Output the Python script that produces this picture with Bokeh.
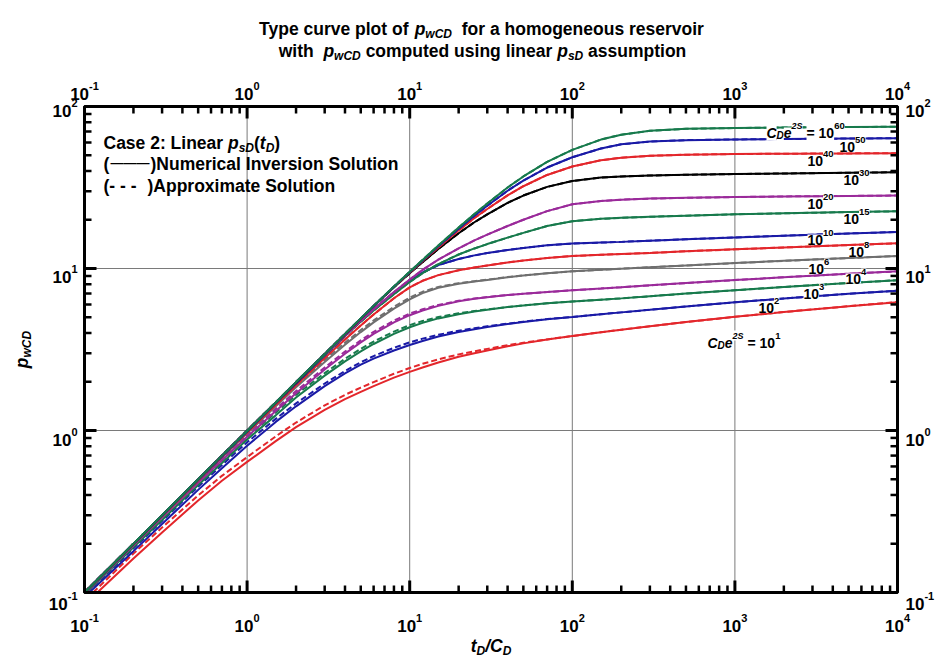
import math
from bokeh.plotting import figure
from bokeh.models import Range1d, Label
from bokeh.embed import file_html
from bokeh.resources import INLINE

# ---------------- data ----------------
t_vals = [0.1, 0.2, 0.3, 0.5, 0.7, 1, 1.5, 2, 3, 4, 5, 6, 8, 10, 12, 15, 20, 25, 30, 40,
          50, 70, 100, 150, 200, 300, 500, 1000, 2000, 5000, 10000]

# numerical inversion solution, one list per C_D e^{2S}
p_1e1 = [0.1, 0.162, 0.235, 0.37, 0.49, 0.64, 0.86, 1.05, 1.34, 1.56, 1.73, 1.88, 2.12, 2.3, 2.45,
         2.63, 2.85, 3.0, 3.12, 3.31, 3.45, 3.64, 3.83, 4.04, 4.19, 4.4, 4.67, 5.03, 5.39, 5.85, 6.2]
p_1e2 = [0.1, 0.18, 0.265, 0.43, 0.585, 0.805, 1.13, 1.41, 1.88, 2.25, 2.55, 2.78, 3.12, 3.37, 3.57,
         3.8, 4.05, 4.22, 4.35, 4.54, 4.68, 4.86, 5.02, 5.22, 5.36, 5.56, 5.83, 6.18, 6.53, 6.98, 7.3]
p_1e3 = [0.1, 0.19, 0.28, 0.46, 0.63, 0.88, 1.24, 1.6, 2.18, 2.67, 3.08, 3.42, 3.95, 4.34, 4.62,
         4.92, 5.22, 5.42, 5.56, 5.78, 5.92, 6.1, 6.25, 6.42, 6.54, 6.74, 7.0, 7.34, 7.69, 8.14, 8.47]
p_1e4 = [0.1, 0.195, 0.29, 0.475, 0.655, 0.915, 1.32, 1.7, 2.38, 2.98, 3.5, 3.95, 4.65, 5.15, 5.5,
         5.88, 6.27, 6.5, 6.65, 6.85, 6.98, 7.15, 7.35, 7.52, 7.66, 7.87, 8.13, 8.48, 8.83, 9.28, 9.6]
p_1e6 = [0.1, 0.197, 0.295, 0.49, 0.68, 0.96, 1.41, 1.85, 2.65, 3.38, 4.05, 4.65, 5.65, 6.45, 7.05,
         7.6, 8.05, 8.3, 8.5, 8.83, 9.05, 9.35, 9.6, 9.82, 9.97, 10.18, 10.44, 10.8, 11.15, 11.6, 11.95]
p_1e8 = [0.1, 0.198, 0.296, 0.491, 0.685, 0.97, 1.44, 1.9, 2.8, 3.65, 4.45, 5.2, 6.55, 7.65, 8.4,
         9.1, 9.75, 10.15, 10.45, 10.9, 11.2, 11.6, 11.95, 12.15, 12.28, 12.48, 12.77, 13.13, 13.48, 13.95, 14.3]
p_1e10 = [0.1, 0.2, 0.298, 0.495, 0.69, 0.985, 1.47, 1.95, 2.9, 3.83, 4.72, 5.58, 7.1, 8.35, 9.45,
          10.5, 11.45, 12.05, 12.45, 13.0, 13.4, 13.9, 14.25, 14.45, 14.6, 14.85, 15.15, 15.55, 15.95, 16.45, 16.8]
p_1e15 = [0.1, 0.2, 0.299, 0.497, 0.695, 0.99, 1.48, 1.97, 2.92, 3.84, 4.7, 5.5, 6.95, 8.25, 9.35,
          10.65, 12.2, 13.3, 14.15, 15.5, 16.6, 18.3, 19.6, 20.25, 20.55, 20.85, 21.2, 21.6, 21.9, 22.3, 22.55]
p_1e20 = [0.1, 0.2, 0.3, 0.499, 0.698, 0.995, 1.49, 1.98, 2.94, 3.86, 4.75, 5.6, 7.15, 8.55, 9.8,
          11.35, 13.3, 14.9, 16.2, 18.3, 20.0, 22.6, 24.9, 26.1, 26.6, 27.0, 27.3, 27.6, 27.85, 28.05, 28.2]
p_1e30 = [0.1, 0.2, 0.3, 0.5, 0.7, 0.996, 1.49, 1.98, 2.96, 3.93, 4.89, 5.84, 7.65, 9.35, 10.95,
          13.2, 16.5, 19.3, 21.6, 25.4, 28.2, 31.9, 34.7, 36.4, 37.0, 37.5, 37.9, 38.3, 38.6, 39.0, 39.3]
p_1e40 = [0.1, 0.2, 0.3, 0.5, 0.7, 0.997, 1.49, 1.99, 2.97, 3.94, 4.9, 5.86, 7.7, 9.45, 11.12,
          13.5, 17.2, 20.5, 23.3, 28.3, 32.2, 37.8, 42.6, 46.6, 48.3, 49.6, 50.4, 50.9, 51.1, 51.35, 51.5]
p_1e50 = [0.1, 0.2, 0.3, 0.5, 0.7, 0.997, 1.49, 1.99, 2.97, 3.95, 4.91, 5.87, 7.72, 9.5, 11.22,
          13.7, 17.6, 21.2, 24.4, 30.2, 34.9, 42.0, 48.6, 55.0, 58.4, 60.8, 62.0, 62.6, 63.0, 63.4, 63.7]
p_1e60 = [0.1, 0.2, 0.3, 0.5, 0.7, 0.997, 1.49, 1.99, 2.97, 3.95, 4.92, 5.88, 7.75, 9.55, 11.3,
          13.85, 17.9, 21.7, 25.2, 31.6, 37.0, 45.5, 54.0, 62.5, 67.0, 70.8, 72.8, 73.6, 74.2, 74.7, 75.0]

# approximate solution (dashed) where it departs from the numerical curve
a_1e1 = [0.1, 0.174, 0.252, 0.397, 0.525, 0.685, 0.92, 1.12, 1.43, 1.66, 1.84, 1.99, 2.24, 2.43, 2.58,
         2.75, 2.95, 3.08, 3.19, 3.36, 3.48, 3.65, 3.83, 4.04, 4.19, 4.4, 4.67, 5.03, 5.39, 5.85, 6.2]
a_1e2 = [0.1, 0.187, 0.276, 0.45, 0.612, 0.845, 1.18, 1.47, 1.95, 2.33, 2.64, 2.88, 3.24, 3.5, 3.69,
         3.9, 4.13, 4.28, 4.4, 4.57, 4.7, 4.87, 5.02, 5.22, 5.36, 5.56, 5.83, 6.18, 6.53, 6.98, 7.3]
a_1e3 = [0.1, 0.196, 0.29, 0.475, 0.65, 0.91, 1.29, 1.66, 2.26, 2.77, 3.19, 3.54, 4.08, 4.47, 4.74,
         5.02, 5.29, 5.47, 5.59, 5.79, 5.92, 6.1, 6.25, 6.42, 6.54, 6.74, 7.0, 7.34, 7.69, 8.14, 8.47]
a_1e4 = [0.1, 0.199, 0.297, 0.488, 0.675, 0.945, 1.36, 1.75, 2.45, 3.07, 3.6, 4.06, 4.77, 5.27, 5.6,
         5.96, 6.32, 6.53, 6.67, 6.86, 6.98, 7.15, 7.35, 7.52, 7.66, 7.87, 8.13, 8.48, 8.83, 9.28, 9.6]
a_1e6 = [0.1, 0.199, 0.298, 0.495, 0.69, 0.975, 1.44, 1.89, 2.72, 3.48, 4.17, 4.78, 5.8, 6.6, 7.18,
         7.7, 8.12, 8.35, 8.54, 8.85, 9.06, 9.35, 9.6, 9.82, 9.97, 10.18, 10.44, 10.8, 11.15, 11.6, 11.95]

# t_D/C_D where each curve enters the plot at p = 0.1 (first point of each list)
start_num = [0.12, 0.107, 0.103, 0.102, 0.101, 0.1, 0.1, 0.1, 0.1, 0.1, 0.1, 0.1, 0.1]
start_app = [0.113, 0.104, 0.101, 0.1, 0.1, 0.1, 0.1, 0.1, 0.1, 0.1, 0.1, 0.1, 0.1]

curve_exps = ["1", "2", "3", "4", "6", "8", "10", "15", "20", "30", "40", "50", "60"]
numerical = [p_1e1, p_1e2, p_1e3, p_1e4, p_1e6, p_1e8, p_1e10, p_1e15, p_1e20, p_1e30, p_1e40, p_1e50, p_1e60]
approx = [a_1e1, a_1e2, a_1e3, a_1e4, a_1e6, p_1e8, p_1e10, p_1e15, p_1e20, p_1e30, p_1e40, p_1e50, p_1e60]

tick_exps_x = [-1, 0, 1, 2, 3, 4]
tick_exps_y = [-1, 0, 1, 2]
X_MIN, X_MAX, Y_MIN, Y_MAX = 0.1, 1e4, 0.1, 100

# ---------------- styling ----------------
RED, BLUE, GREEN, PURPLE, GRAY, BLACK = "#e3262b", "#1a1aa6", "#177a4c", "#9a2a9a", "#6f6f6f", "#000000"
colors = [RED, BLUE, GREEN, PURPLE, GRAY, RED, BLUE, GREEN, PURPLE, BLACK, RED, BLUE, GREEN]
FONT = "Liberation Sans"

W, H = 936, 657
FX0, FX1, FY0, FY1 = 84, 897, 106, 592   # pixel box of the plotting area
MAJ, MIN = 12, 7                          # tick lengths (px, pointing inwards)


def xd(px):
    return 10 ** (math.log10(X_MIN) + math.log10(X_MAX / X_MIN) * (px - FX0) / (FX1 - FX0))


def yd(py):
    return 10 ** (math.log10(Y_MAX) - math.log10(Y_MAX / Y_MIN) * (py - FY0) / (FY1 - FY0))


AW = {' ': 278, '(': 333, ')': 333, '-': 333, '/': 278, ':': 333, '=': 584, '\u2014': 1000,
      'A': 722, 'C': 722, 'D': 722, 'I': 278, 'L': 611, 'N': 722, 'S': 667, 'T': 611,
      'a': 556, 'c': 556, 'd': 611, 'e': 556, 'f': 333, 'g': 611, 'h': 611, 'i': 278, 'l': 278,
      'm': 889, 'n': 611, 'o': 611, 'p': 611, 'r': 389, 's': 556, 't': 333, 'u': 611, 'v': 556,
      'w': 778, 'x': 556, 'y': 556}


def tw(s, size):
    return sum(AW.get(ch, 556) for ch in s) * size / 1000.0


# the frame covers the whole canvas (log scales); the boxed plot area sits inside it
p = figure(width=W, height=H, x_axis_type="log", y_axis_type="log",
           x_axis_location=None, y_axis_location=None,
           x_range=Range1d(xd(0), xd(W)), y_range=Range1d(yd(H), yd(0)),
           output_backend="svg", toolbar_location=None,
           min_border=0, min_border_left=0, min_border_right=0,
           min_border_top=0, min_border_bottom=0)
p.outline_line_color = None
p.background_fill_color = "white"
p.border_fill_color = "white"
for g in p.grid:
    g.visible = False

# grid lines at the major decades
gx = [10.0 ** e for e in tick_exps_x]
gy = [10.0 ** e for e in tick_exps_y]
p.segment(x0=gx, y0=[Y_MIN] * len(gx), x1=gx, y1=[Y_MAX] * len(gx), line_color="#7a7a7a", line_width=1)
p.segment(x0=[X_MIN] * len(gy), y0=gy, x1=[X_MAX] * len(gy), y1=gy, line_color="#7a7a7a", line_width=1)

for vals, avals, c, s_n, s_a in zip(numerical, approx, colors, start_num, start_app):
    p.line([s_n] + t_vals[1:], vals, line_color=c, line_width=2)
    p.line([s_a] + t_vals[1:], avals, line_color=c, line_width=2, line_dash="6 3")

# ticks on all four sides (major at decades, minor at 2..9)
x_minor = [m * 10.0 ** e for e in tick_exps_x[:-1] for m in range(2, 10)]
y_minor = [m * 10.0 ** e for e in tick_exps_y[:-1] for m in range(2, 10)]
for xs, L, lw in ((gx, MAJ, 3), (x_minor, MIN, 2.5)):
    n = len(xs)
    p.segment(x0=xs, y0=[Y_MIN] * n, x1=xs, y1=[yd(FY1 - L)] * n, line_color="black", line_width=lw)
    p.segment(x0=xs, y0=[Y_MAX] * n, x1=xs, y1=[yd(FY0 + L)] * n, line_color="black", line_width=lw)
for ys, L, lw in ((gy, MAJ, 3), (y_minor, MIN, 2.5)):
    n = len(ys)
    p.segment(x0=[X_MIN] * n, y0=ys, x1=[xd(FX0 + L)] * n, y1=ys, line_color="black", line_width=lw)
    p.segment(x0=[X_MAX] * n, y0=ys, x1=[xd(FX1 - L)] * n, y1=ys, line_color="black", line_width=lw)

p.quad(left=[X_MIN], right=[X_MAX], bottom=[Y_MIN], top=[Y_MAX], fill_color=None,
       line_color="black", line_width=3)


def rich(parts, x, y, align="left", angle=0.0, bg=None):
    """parts: (text, size, italic, dy) ; x,y pixel anchor (baseline)."""
    total = sum(tw(t, s) for t, s, _, _ in parts)
    cur = {"left": 0.0, "center": -total / 2.0, "right": -total}[align]
    for text, size, it, dy in parts:
        lead = len(text) - len(text.lstrip(' '))
        body = text.strip(' ')
        ox = cur + tw(' ' * lead, size)
        if body:
            if angle == 0:
                px, py = x + ox, y + dy
            else:
                px, py = x + dy, y - ox
            kw = dict(x=xd(px), y=yd(py), text=body, text_font=FONT,
                      text_font_size=f"{size}px",
                      text_font_style="bold italic" if it else "bold",
                      text_align="left", text_baseline="alphabetic",
                      text_color="black", angle=angle)
            if bg:
                kw["background_fill_color"] = bg
            p.add_layout(Label(**kw))
        cur += tw(text, size)


# ---------------- titles ----------------
BIG, SUB = 17.5, 12
rich([("Type curve plot of ", BIG, False, 0), ("p", BIG, True, 0), ("wCD", SUB, True, 5),
      ("  for a homogeneous reservoir", BIG, False, 0)], 481, 28, "center")
rich([("with  ", BIG, False, 0), ("p", BIG, True, 0), ("wCD", SUB, True, 5),
      (" computed using linear ", BIG, False, 0), ("p", BIG, True, 0), ("sD", SUB, True, 5),
      (" assumption", BIG, False, 0)], 482, 50, "center")

# axis titles
rich([("t", BIG, True, 0), ("D", SUB, True, 5), ("/C", BIG, True, 0), ("D", SUB, True, 5)],
     (FX0 + FX1) / 2, 645, "center")
rich([("p", BIG, True, 0), ("wCD", SUB, True, 5)], 21, (FY0 + FY1) / 2, "center", angle=math.pi / 2)

# legend block
rich([("Case 2: Linear ", BIG, False, 0), ("p", BIG, True, 0), ("sD", SUB, True, 5),
      ("(", BIG, False, 0), ("t", BIG, True, 0), ("D", SUB, True, 5), (")", BIG, False, 0)], 103, 142)
rich([("(", BIG, False, 0)], 103, 163)
rich([("\u2014\u2014\u2014", 13, False, -1.5)], 110, 163)
rich([(")Numerical Inversion Solution", BIG, False, 0)], 150, 163)
rich([("(- - -", BIG, False, 0)], 103, 185)
rich([(")Approximate Solution", BIG, False, 0)], 147, 185)

# ---------------- tick labels ----------------
TS, TSS = 17, 11
y_label_drop = {-1: 11, 0: 9, 1: 8, 2: 4}
for e in tick_exps_x:
    px = FX0 + (FX1 - FX0) * (e - tick_exps_x[0]) / (tick_exps_x[-1] - tick_exps_x[0])
    parts = [("10", TS, False, 0), (str(e), TSS, False, -8)]
    rich(parts, px, 625, "center")
    rich(parts, px, 93, "center")
for e in tick_exps_y:
    py = FY1 - (FY1 - FY0) * (e - tick_exps_y[0]) / (tick_exps_y[-1] - tick_exps_y[0])
    parts = [("10", TS, False, 0), (str(e), TSS, False, -8)]
    rich(parts, 77, py + y_label_drop[e], "right")
    rich(parts, 905, py + y_label_drop[e], "left")

# ---------------- curve labels ----------------
label_pos = {"60": (766, 127), "50": (839, 141), "40": (807, 155), "30": (843, 174), "20": (807, 198),
             "15": (843, 213), "10": (807, 234), "8": (848, 246), "6": (808, 263), "4": (845, 273),
             "3": (803, 288), "2": (758, 302), "1": (707, 337)}
LS, LSS = 14, 9.5
for e in curve_exps:
    lx, ly = label_pos[e]
    if e in ("60", "1"):
        parts = [("C", LS, True, 0), ("D", 10, True, 3), ("e", LS, True, 0), ("2S", 9, True, -7),
                 (" = 10", LS, False, 0), (e, LSS, False, -7)]
    else:
        parts = [("10", LS, False, 0), (e, LSS, False, -7)]
    rich(parts, lx, ly + 5, "left", bg="white")

open("out.html", "w").write(file_html(p, INLINE))
